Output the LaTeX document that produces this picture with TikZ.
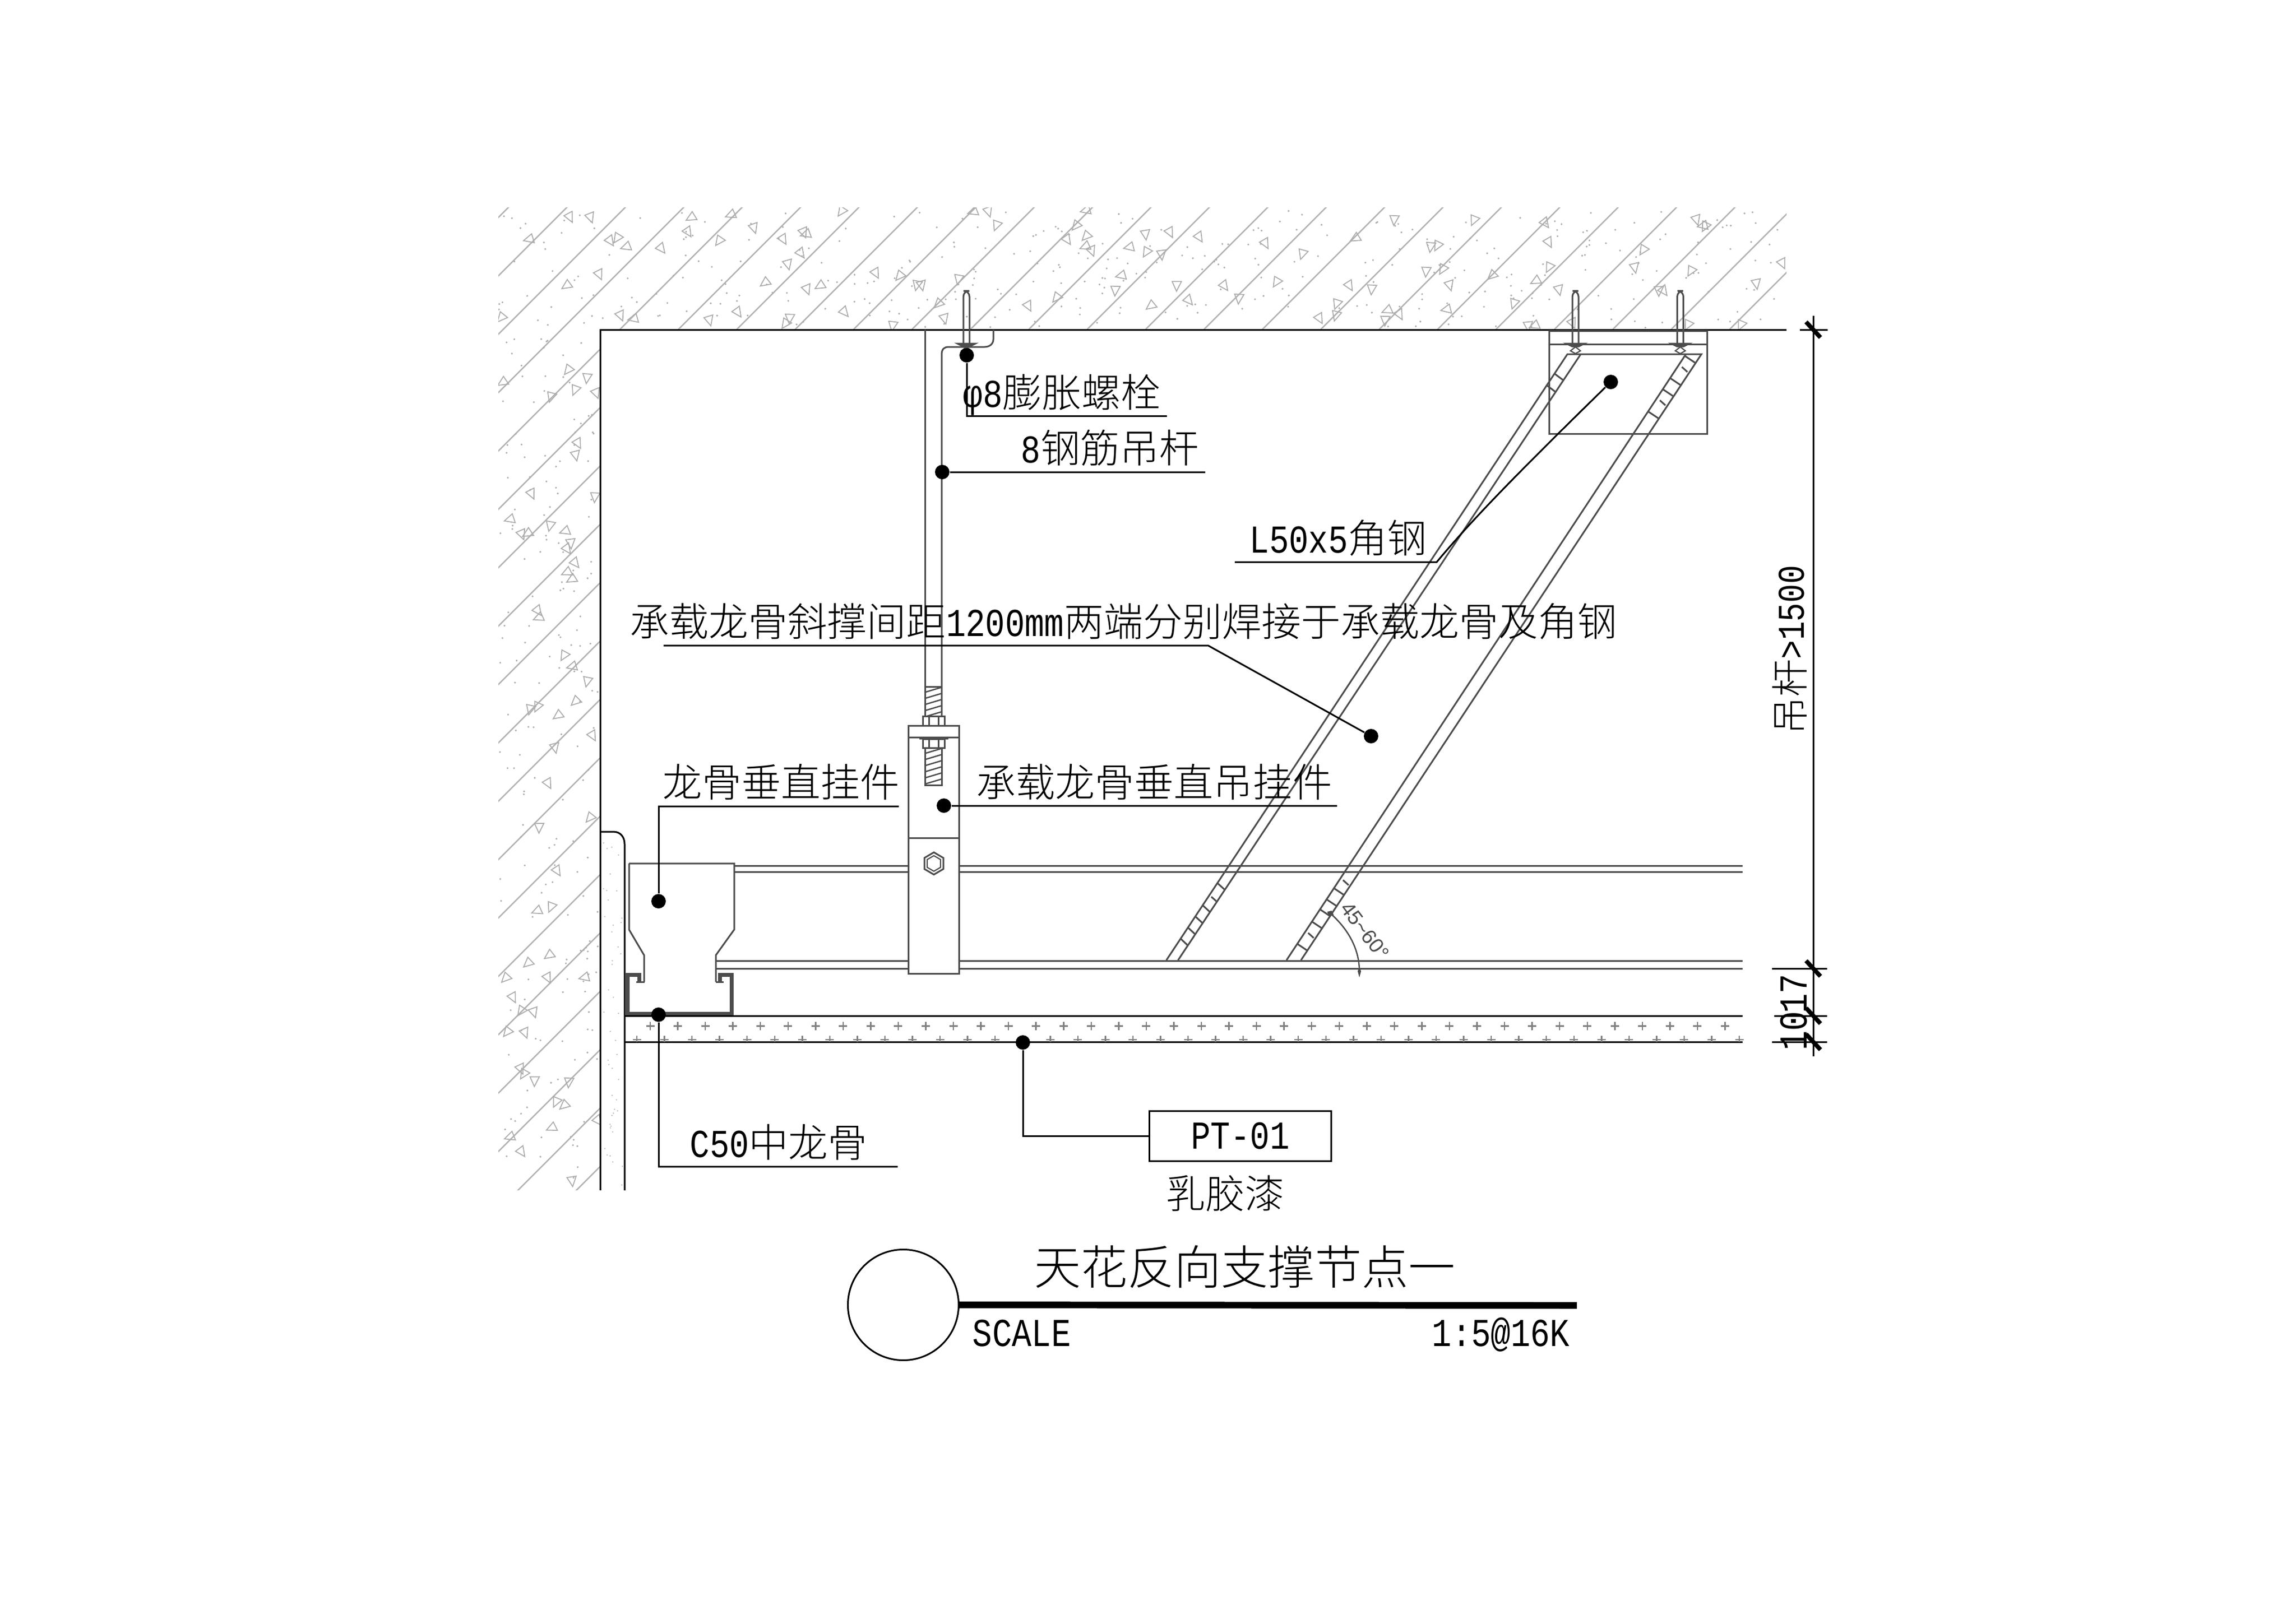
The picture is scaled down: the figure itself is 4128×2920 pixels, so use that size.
\documentclass[tikz,border=0pt]{standalone}
\usepackage{fontspec}
\setmainfont{Noto Sans CJK SC Light}
\newfontfamily\monof[FakeStretch=0.83]{Liberation Mono}
\newfontfamily\sansf{Liberation Sans}
\newcommand{\ltn}[1]{{\monof #1}}
\newcommand{\fsA}{\fontsize{20.2pt}{24pt}\selectfont}
\newcommand{\fsT}{\fontsize{23.9pt}{28pt}\selectfont}
\newcommand{\fsD}{\fontsize{19.3pt}{24pt}\selectfont}
\tikzset{
  thin black/.style={draw=black,line width=0.85pt},
  leader/.style={draw=black,line width=0.85pt},
  part/.style={draw=black!70,line width=0.85pt},
  chan/.style={draw=black!70,line width=2pt,line join=miter},
  hatchl/.style={draw=black!30,line width=0.7pt},
  stip/.style={draw=black!32,line width=0.5pt},
  cross/.style={draw=black!50,line width=0.7pt},
  lab/.style={inner sep=0pt,anchor=base west,font=\fsA},
  dot/.style={circle,fill=black,inner sep=0pt,minimum size=0.26cm},
}
\newcommand{\screw}[1]{%
  \draw[part,rounded corners=3pt] (#1-5.5,619)--(#1-5.5,523)--(#1+5.5,523)--(#1+5.5,619);
  \draw[part,fill=black!70] (#1-16,618)--(#1+16,618)--(#1+6,623)--(#1-6,623)--cycle;
  \draw[part,line width=0.6pt] (#1,624)--(#1-9,631)--(#1,636)--(#1+9,631)--cycle;
}
\newcommand{\stone}{(-7,-8)--(9,-3)--(-5,11)--cycle}
\newcommand{\tickR}[1]{\draw[part] ({3031-0.66*(#1-637)},#1)--({3059-0.66*(#1+13-637)},#1+13);}
\newcommand{\tickRs}[1]{\draw[part] ({3031-0.66*(#1-637)+8},#1)--({3031-0.66*(#1-637)+18},#1+9);}
\newcommand{\tickL}[1]{\draw[part] ({2818-0.662*(#1-637)},#1)--({2842-0.665*(#1+12-637)},#1+12);}
\newcommand{\tickLs}[1]{\draw[part] ({2818-0.662*(#1-637)+6},#1)--({2818-0.662*(#1-637)+15},#1+8);}
\begin{document}
\begin{tikzpicture}[x=0.01cm,y=-0.01cm]
\useasboundingbox (0,0) rectangle (4128,2920);
\fill[white] (0,0) rectangle (4128,2920);
% concrete
\begin{scope}
  \clip (896,373)--(3212,373)--(3212,593)--(1079,593)--(1079,2141)--(896,2141)--cycle;
  \foreach \c in {1287,1392,...,3800}{
    \draw[hatchl] ({\c-373+50},323)--({\c-2200},2200);
  }
  \pgfmathsetseed{4711}
  \foreach \i in {1,...,105}{
    \pgfmathsetmacro{\tx}{896+2316*rnd}
    \pgfmathsetmacro{\ty}{378+210*rnd}
    \pgfmathsetmacro{\tr}{-60+120*rnd}
    \draw[stip,shift={(\tx,\ty)},rotate=\tr] \stone;
  }
  \foreach \i in {1,...,58}{
    \pgfmathsetmacro{\tx}{900+175*rnd}
    \pgfmathsetmacro{\ty}{600+1535*rnd}
    \pgfmathsetmacro{\tr}{-60+120*rnd}
    \draw[stip,shift={(\tx,\ty)},rotate=\tr] \stone;
  }
  \foreach \i in {1,...,340}{
    \pgfmathsetmacro{\tx}{896+2316*rnd}
    \pgfmathsetmacro{\ty}{378+212*rnd}
    \fill[black!32] (\tx,\ty) circle (0.018cm);
  }
  \foreach \i in {1,...,170}{
    \pgfmathsetmacro{\tx}{898+178*rnd}
    \pgfmathsetmacro{\ty}{600+1535*rnd}
    \fill[black!32] (\tx,\ty) circle (0.018cm);
  }
\end{scope}
% plaster speckle
\foreach \i in {1,...,45}{
  \pgfmathsetmacro{\tx}{1083+36*rnd}
  \pgfmathsetmacro{\ty}{1505+630*rnd}
  \fill[black!30] (\tx,\ty) circle (0.012cm);
}
% wall and ceiling
\draw[thin black] (3212,593)--(1079,593)--(1079,2141);
\draw[thin black] (1079,1496)--(1103,1496) .. controls (1115,1496) and (1123,1505) .. (1123,1518)--(1123,2141);
% hanger rod
\draw[part] (1663,593)--(1663,1288);
\draw[part] (1693,1288)--(1693,638) .. controls (1693,628) and (1697,624) .. (1706,624)--(1770,624) .. controls (1780,624) and (1786,618) .. (1786,610)--(1786,593);
\screw{1737.5}
\draw[part] (1663,1235)--(1693,1235);
\begin{scope}
  \clip (1664,1235) rectangle (1693,1288);
  \foreach \y in {1246,1257,...,1310}{\draw[part,line width=0.7pt] (1660,\y)--(1697,\y-11);}
\end{scope}
\begin{scope}
  \clip (1664,1345) rectangle (1693,1412);
  \foreach \y in {1356,1367,...,1430}{\draw[part,line width=0.7pt] (1660,\y)--(1697,\y-11);}
\end{scope}
\draw[part] (1663,1345)--(1663,1412)--(1693,1412)--(1693,1345);
% clip
\draw[part] (1633,1305) rectangle (1724,1751);
\draw[part] (1633,1326)--(1724,1326);
\draw[part] (1633,1507)--(1724,1507);
\draw[part] (1659,1288) rectangle (1698,1305);
\draw[part] (1670,1288)--(1670,1305) (1687,1288)--(1687,1305);
\draw[part] (1659,1329) rectangle (1698,1345);
\draw[part] (1670,1329)--(1670,1345) (1687,1329)--(1687,1345);
\draw[part] (1653,1328.5)--(1705,1328.5);
\draw[part] (1679,1533)--(1696,1543)--(1696,1563)--(1679,1573)--(1662,1563)--(1662,1543)--cycle;
\draw[part,line width=0.6pt] (1679,1539)--(1691,1546)--(1691,1560)--(1679,1567)--(1667,1560)--(1667,1546)--cycle;
% rails
\draw[part] (1320,1557)--(1633,1557) (1320,1568)--(1633,1568);
\draw[part] (1724,1557)--(3133,1557) (1724,1568)--(3133,1568);
\draw[part] (1287,1728)--(1633,1728) (1287,1742)--(1633,1742);
\draw[part] (1724,1728)--(3133,1728) (1724,1742)--(3133,1742);
% wall hanger
\draw[part] (1131,1553)--(1320,1553)--(1320,1672)--(1287,1718)--(1287,1766);
\draw[part] (1131,1553)--(1131,1672)--(1158,1718)--(1158,1766);
% C channel
\draw[chan] (1149,1767)--(1149,1753)--(1128.5,1753)--(1128.5,1823.5)--(1315,1823.5)--(1315,1753)--(1294,1753)--(1294,1767);
\draw[part] (1144,1766)--(1159,1766) (1287,1766)--(1301,1766);
% board
\draw[thin black] (1123,1827)--(3133,1827);
\draw[thin black] (1123,1874)--(3133,1874);
\foreach \x in {0,...,39}{
  \pgfmathsetmacro{\px}{1169+49.55*\x}
  \draw[cross] (\px-7.5,1845.5)--(\px+7.5,1845.5) (\px,1838)--(\px,1853);
}
\foreach \x in {0,...,40}{
  \pgfmathsetmacro{\px}{1145+49.55*\x}
  \draw[cross] (\px-7.5,1870)--(\px+7.5,1870) (\px,1863)--(\px,1874);
}
% ceiling bracket
\draw[part] (2785,595) rectangle (3069,780);
\draw[part] (2785,619)--(3069,619);
\screw{2832.5}
\screw{3021}
% struts
\draw[part] (2097,1727)--(2818,637)--(3059,637)--(2339,1727);
\draw[part] (2118,1727)--(2842,637);
\draw[part] (2313,1727)--(3031,637);
\foreach \y in {640,680,700,740,1597,1617,1635,1657,1697}{\tickR{\y}}
\foreach \y in {660,720,1583,1678}{\tickRs{\y}}
\foreach \y in {672,693,1588,1628,1648,1668,1688}{\tickL{\y}}
\foreach \y in {1613}{\tickLs{\y}}
% angle mark
\draw[part,line width=0.7pt] (2392,1643) .. controls (2425,1672) and (2444,1708) .. (2444,1747);
\fill[black!70] (2444,1738)--(2447,1747)--(2444,1758)--(2441,1747)--cycle;
\fill[black!70] (2386,1640)--(2394,1638)--(2398,1646)--(2390,1648)--cycle;
\node[rotate=-53,inner sep=0pt,text=black!70,font=\sansf\fontsize{10.5pt}{12pt}\selectfont] (ang) at (2454,1674) {45\textasciitilde60°};
% dimension
\coordinate (dtop) at (3260,568);
\coordinate (dbot) at (3260,1900);
\draw[thin black] (dtop)--(dbot);
\draw[thin black] (3236,593)--(3286,593);
\draw[thin black] (3186,1742)--(3285,1742);
\draw[thin black] (3190,1827)--(3285,1827);
\draw[thin black] (3186,1874)--(3285,1874);
\foreach \y in {593,1742,1827,1874}{
  \draw[black,line width=2.2pt] (3247,\y-14)--(3273,\y+14);
}
\node[rotate=90,inner sep=0pt,anchor=base,font=\fsD] (d1500) at (3243,1169) {吊杆\ltn{>1500}};
\node[rotate=90,inner sep=0pt,anchor=base,font=\fsA] (d17) at (3248,1787) {\ltn{17}};
\node[rotate=90,inner sep=0pt,anchor=base,font=\fsA] (d10) at (3248,1854) {\ltn{10}};
% labels
\node[lab] (t1) at (1731,732) {\ltn{φ8}膨胀螺栓};
\node[lab] (t2) at (1835,832) {\ltn{8}钢筋吊杆};
\node[lab] (t3) at (2246,994) {\ltn{L50x5}角钢};
\node[lab] (t4) at (1132,1144) {承载龙骨斜撑间距\ltn{1200mm}两端分别焊接于承载龙骨及角钢};
\node[lab] (t5) at (1191,1433) {龙骨垂直挂件};
\node[lab] (t6) at (1755,1433) {承载龙骨垂直吊挂件};
\node[lab] (t7) at (1240,2081) {\ltn{C50}中龙骨};
\node[draw=black,line width=0.85pt,minimum width=3.26cm,minimum height=0.9cm,inner sep=0pt,font=\fsA] (pt) at (2230,2043) {\ltn{PT-01}};
\node[lab] (t8) at (2096,2173) {乳胶漆};
% leaders
\node[dot] (d1) at (1738,639) {};
\coordinate (u1) at (2098,748);
\draw[leader] (d1)|-(u1);
\node[dot] (d2) at (1694,849) {};
\coordinate (u2) at (2167,849);
\draw[leader] (d2)--(u2);
\node[dot] (d3) at (2896,687) {};
\coordinate (u3a) at (2220,1011);
\coordinate (u3b) at (2583,1011);
\draw[leader] (u3a)--(u3b) .. controls (2650,930) and (2750,830) .. (d3);
\node[dot] (d4) at (2465,1324) {};
\coordinate (u4a) at (1193,1161);
\coordinate (u4b) at (2172,1161);
\draw[leader] (u4a)--(u4b)--(d4);
\node[dot] (d5) at (1184,1621) {};
\coordinate (u5) at (1616,1450);
\draw[leader] (d5)|-(u5);
\node[dot] (d6) at (1697,1449) {};
\coordinate (u6) at (2404,1449);
\draw[leader] (d6)--(u6);
\node[dot] (d7) at (1184,1825) {};
\coordinate (u7) at (1614,2098);
\draw[leader] (d7)|-(u7);
\node[dot] (d8) at (1839,1875) {};
\draw[leader] (d8)|-(pt.west);
% title
\node[circle,draw=black,line width=0.85pt,minimum size=1.99cm,inner sep=0pt] (tc) at (1624,2347) {};
\coordinate (bar) at (2835,2348);
\draw[black,line width=3.4pt] (tc.east)--(bar);
\node[inner sep=0pt,anchor=base west,font=\fsT] (title) at (1859,2310) {天花反向支撑节点一};
\node[lab] (sc) at (1748,2421) {\ltn{SCALE}};
\node[inner sep=0pt,anchor=base east,font=\fsA] (sc2) at (2823,2421) {\ltn{1:5@16K}};
\end{tikzpicture}
\end{document}
